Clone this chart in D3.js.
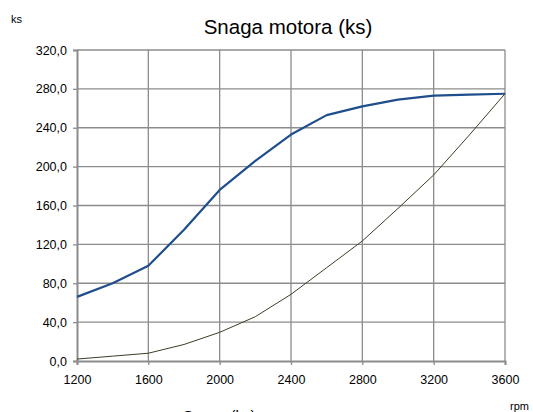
<html lang="en">
<head>
    <meta charset="UTF-8">
    <title>Snaga motora</title>
    <style>
        body { margin: 0; background: #fff; }
        text { font-family: Arial, "Liberation Sans", sans-serif; fill: #000; }
    </style>
</head>
<body>
<script src="https://d3js.org/d3.v7.min.js"></script>
<svg id="chart"></svg>
<script>
    // data
    var rpm = [1200, 1400, 1600, 1800, 2000, 2200, 2400, 2600, 2800, 3000, 3200, 3400, 3600];
    var snaga = [66, 80, 98, 135, 176, 206, 233, 253, 262, 269, 273, 274, 275];
    var krivulja = [2, 5, 8, 17, 29.5, 45.6, 68.6, 96, 123.5, 157, 191.4, 232.5, 275];
    var xTicks = [1200, 1600, 2000, 2400, 2800, 3200, 3600];
    var yTicks = [0, 40, 80, 120, 160, 200, 240, 280, 320];

    var outerWidth = 533, outerHeight = 412;
    var margin = {top: 50, right: 28, bottom: 51, left: 77},
        width = outerWidth - margin.left - margin.right,
        height = outerHeight - margin.top - margin.bottom;

    var svg = d3.select("#chart")
        .attr("width", outerWidth)
        .attr("height", outerHeight);
    var g = svg.append("g")
        .attr("transform", `translate(${margin.left}, ${margin.top})`);

    var x = d3.scaleLinear().domain([1200, 3600]).range([0, width]);
    var y = d3.scaleLinear().domain([0, 320]).range([height, 0]);
    var gridColor = "#8c8c8c";

    // grid
    g.append("g").selectAll("line").data(yTicks.slice(1)).enter().append("line")
        .attr("x1", 0).attr("x2", width)
        .attr("y1", d => y(d)).attr("y2", d => y(d))
        .attr("stroke", gridColor).attr("stroke-width", 1.3);
    g.append("g").selectAll("line").data(xTicks.slice(1)).enter().append("line")
        .attr("x1", d => x(d)).attr("x2", d => x(d))
        .attr("y1", 0).attr("y2", height)
        .attr("stroke", gridColor).attr("stroke-width", 1.3);

    // axes
    var fmt = v => d3.format(".1f")(v).replace(".", ",");
    var xAxis = g.append("g")
        .attr("transform", `translate(0, ${height})`)
        .call(d3.axisBottom(x).tickValues(xTicks).tickSize(4).tickPadding(10).tickFormat(d3.format("d")));
    var yAxis = g.append("g")
        .call(d3.axisLeft(y).tickValues(yTicks).tickSize(4).tickPadding(6).tickFormat(fmt));
    [xAxis, yAxis].forEach(function(a) {
        a.select(".domain").attr("stroke", gridColor).attr("stroke-width", 2);
        a.selectAll(".tick line").attr("stroke", gridColor).attr("stroke-width", 1.3);
        a.selectAll("text").style("font-size", "12.5px").attr("fill", "#000")
            .style("font-family", "Arial, 'Liberation Sans', sans-serif");
    });

    // lines
    var line = d3.line().x((d, i) => x(rpm[i])).y(d => y(d));
    g.append("path").datum(krivulja)
        .attr("fill", "none").attr("stroke", "#3f3d27").attr("stroke-width", 1)
        .attr("d", line);
    g.append("path").datum(snaga)
        .attr("fill", "none").attr("stroke", "#1f4e8c").attr("stroke-width", 2.2)
        .attr("stroke-linejoin", "round")
        .attr("d", line);

    // texts
    svg.append("text").attr("x", 288).attr("y", 34).attr("text-anchor", "middle")
        .style("font-size", "20.5px").text("Snaga motora (ks)");
    svg.append("text").attr("x", 11).attr("y", 23)
        .style("font-size", "11px").text("ks");
    svg.append("text").attr("x", 510).attr("y", 410)
        .style("font-size", "11px").text("rpm");
    svg.append("text").attr("x", 183).attr("y", 421)
        .style("font-size", "15px").text("Snaga (ks)");
</script>
</body>
</html>
